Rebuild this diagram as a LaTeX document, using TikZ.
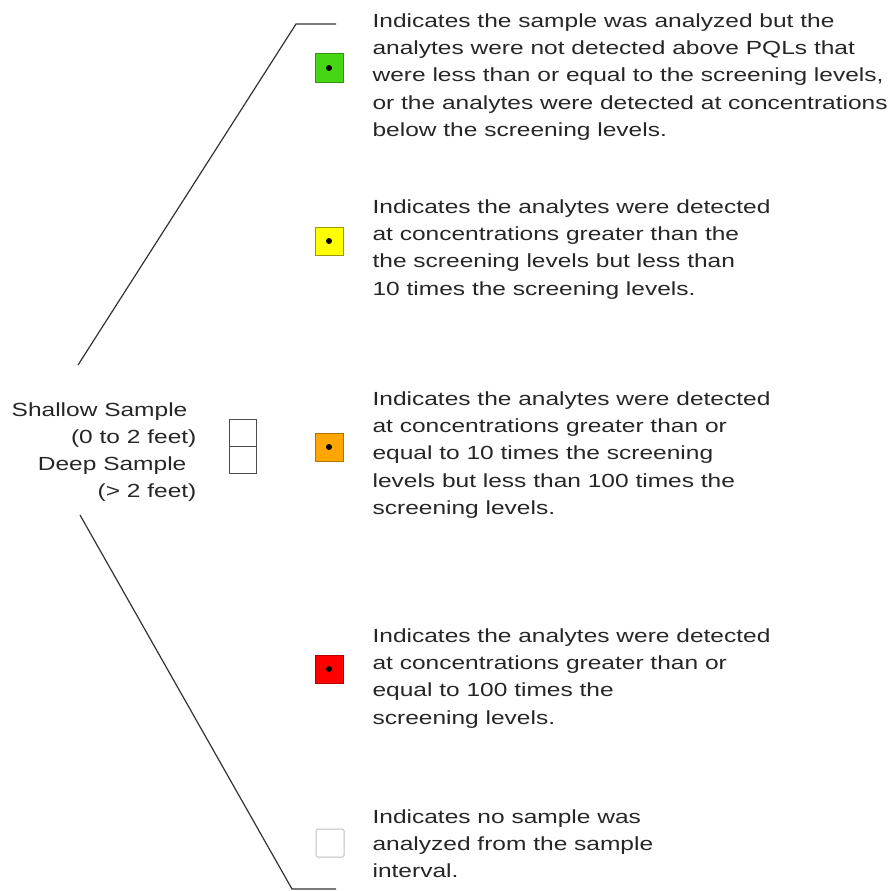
\documentclass[tikz,border=0pt]{standalone}
\usepackage{fontspec}
\setmainfont[FakeStretch=1.29]{Liberation Sans}
\usepackage{tikz}
\usetikzlibrary{positioning}
\definecolor{lgreen}{RGB}{70,214,20}
\definecolor{lyellow}{RGB}{255,255,0}
\definecolor{lorange}{RGB}{255,166,0}
\definecolor{lred}{RGB}{255,0,0}
\tikzstyle{swatch}=[draw,minimum size=28pt,inner sep=0pt,line width=1pt]
\tikzstyle{note}=[anchor=north west,inner sep=0pt,align=left,text=black!85,
  font=\fontsize{19pt}{27.3pt}\selectfont]
\tikzstyle{side}=[anchor=base east,inner sep=0pt,text=black!85,font=\fontsize{19pt}{27pt}\selectfont]

\begin{document}
\begin{tikzpicture}[x=1pt,y=-1pt,line width=1.2pt]
\useasboundingbox (0,0) rectangle (891,891);
    % bracket
    \coordinate (t0) at (78,365);
    \coordinate (t1) at (296,24);
    \coordinate (t2) at (336,24);
    \coordinate (b0) at (80,515);
    \coordinate (b1) at (292,889);
    \coordinate (b2) at (336,889);
    \draw[black!80] (t0) -- (t1) -- (t2);
    \draw[black!80] (b0) -- (b1) -- (b2);

    % sample depth key
    \node [side] (shal) at (188,416) {Shallow Sample};
    \node [side] (shalft) at (197,443) {(0 to 2 feet)};
    \node [side] (deep) at (187,470) {Deep Sample};
    \node [side] (deepft) at (197,497) {(> 2 feet)};
    \node [draw,black!70,line width=0.8pt,minimum width=27pt,minimum height=27pt,inner sep=0pt] (up) at (243,432.5) {};
    \node [draw,black!70,line width=0.8pt,minimum width=27pt,minimum height=27pt,inner sep=0pt,below=0pt of up] (low) {};

    % swatches
    \node [swatch,fill=lgreen,draw=lgreen!70!black] (g) at (329,68) {};
    \node [swatch,fill=lyellow,draw=lyellow!60!black] (y) at (329,241) {};
    \node [swatch,fill=lorange,draw=lorange!70!black] (o) at (329,447) {};
    \node [swatch,fill=lred,draw=lred!70!black] (r) at (329,669) {};
    \node [swatch,fill=white,draw=black!25,rounded corners=1.5pt] (n) at (330,843) {};
    \foreach \s in {g,y,o,r}
      \fill (\s) circle (3pt);

    % notes
    \node [note] (tg) at (372,13) {Indicates the sample was analyzed but the\\
      analytes were not detected above PQLs that\\
      were less than or equal to the screening levels,\\
      or the analytes were detected at concentrations\\
      below the screening levels.};
    \node [note] (ty) at (372,199) {Indicates the analytes were detected\\
      at concentrations greater than the\\
      the screening levels but less than\\
      10 times the screening levels.};
    \node [note] (to) at (372,391) {Indicates the analytes were detected\\
      at concentrations greater than or\\
      equal to 10 times the screening\\
      levels but less than 100 times the\\
      screening levels.};
    \node [note] (tr) at (372,628) {Indicates the analytes were detected\\
      at concentrations greater than or\\
      equal to 100 times the\\
      screening levels.};
    \node [note] (tn) at (372,809) {Indicates no sample was\\
      analyzed from the sample\\
      interval.};
\end{tikzpicture}
\end{document}
